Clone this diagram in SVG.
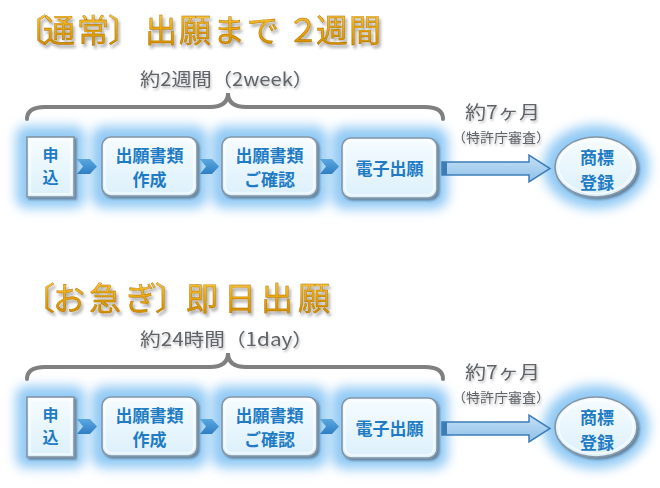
<svg xmlns="http://www.w3.org/2000/svg" width="660" height="488" viewBox="0 0 660 488">
<defs>
<linearGradient id="gold" x1="0" y1="0" x2="0" y2="1">
<stop offset="0" stop-color="#ffd866"/>
<stop offset="0.5" stop-color="#eaa80a"/>
<stop offset="1" stop-color="#c98400"/>
</linearGradient>
<linearGradient id="boxg" x1="0" y1="0" x2="0" y2="1">
<stop offset="0" stop-color="#f6fcff"/>
<stop offset="1" stop-color="#dcf0fb"/>
</linearGradient>
<linearGradient id="chev" x1="0" y1="0" x2="0" y2="1">
<stop offset="0" stop-color="#5aa8e0"/>
<stop offset="1" stop-color="#2f7ec4"/>
</linearGradient>
<linearGradient id="arrg" x1="0" y1="0" x2="0" y2="1">
<stop offset="0" stop-color="#c4e0f6"/>
<stop offset="1" stop-color="#8fc0e8"/>
</linearGradient>
<filter id="glow" x="-50%" y="-50%" width="200%" height="200%">
<feGaussianBlur stdDeviation="6"/>
</filter>
<filter id="shadow" x="-20%" y="-20%" width="140%" height="140%">
<feGaussianBlur in="SourceAlpha" stdDeviation="1.2"/>
<feOffset dx="1.5" dy="2" result="b"/>
<feFlood flood-color="#3a4a5a" flood-opacity="0.55"/>
<feComposite in2="b" operator="in"/>
<feMerge><feMergeNode/><feMergeNode in="SourceGraphic"/></feMerge>
</filter>
<filter id="tshadow" x="-10%" y="-30%" width="120%" height="160%">
<feGaussianBlur in="SourceAlpha" stdDeviation="1.5"/>
<feOffset dx="2" dy="2.5" result="b"/>
<feFlood flood-color="#000" flood-opacity="0.35"/>
<feComposite in2="b" operator="in"/>
<feMerge><feMergeNode/><feMergeNode in="SourceGraphic"/></feMerge>
</filter>
<filter id="sshadow" x="-10%" y="-30%" width="120%" height="160%">
<feGaussianBlur in="SourceAlpha" stdDeviation="1"/>
<feOffset dx="1" dy="1.5" result="b"/>
<feFlood flood-color="#000" flood-opacity="0.25"/>
<feComposite in2="b" operator="in"/>
<feMerge><feMergeNode/><feMergeNode in="SourceGraphic"/></feMerge>
</filter>
</defs>
<style>
.title{font-family:"Noto Sans CJK JP","Noto Sans",sans-serif;font-size:32px;fill:url(#gold);stroke:#a86c00;stroke-width:0.4;filter:url(#tshadow)}
.sub{font-family:"Noto Sans CJK JP","Noto Sans",sans-serif;font-size:18px;fill:#606468;filter:url(#sshadow)}
.small{font-family:"Noto Sans CJK JP","Noto Sans",sans-serif;font-size:13px;fill:#606468;filter:url(#sshadow)}
.brace{fill:none;stroke:#808080;stroke-width:4;stroke-linecap:round}
.gl{fill:#92caf5;filter:url(#glow)}
.box{fill:url(#boxg);stroke:#8595a4;stroke-width:1.6;filter:url(#shadow)}
.inner{fill:none;stroke:#ffffff;stroke-width:1.2;opacity:0.9}
.lbl{font-family:"Noto Sans CJK JP","Noto Sans",sans-serif;font-size:17px;font-weight:bold;fill:#1f7cc4;text-anchor:middle}
.lbs{font-size:16px}
.chev{fill:url(#chev)}
.arr{fill:url(#arrg);stroke:#3c7db8;stroke-width:1.5}
</style>

<!-- Section 1 -->
<g id="title1">
<text class="title" y="42" x="15 43 77 108 145 179 213 247 287 316 349">〔通常〕出願まで２週間</text>
</g>
<g id="span1">
<text class="sub" x="140" y="86" textLength="173" lengthAdjust="spacingAndGlyphs">約2週間（2week）</text>
</g>

<g id="glows1">
<rect class="gl" x="16" y="126" width="69" height="82" rx="10"/>
<rect class="gl" x="91" y="126" width="117" height="82" rx="14"/>
<rect class="gl" x="211" y="126" width="117" height="82" rx="14"/>
<rect class="gl" x="331" y="127" width="117" height="82" rx="14"/>
<ellipse class="gl" cx="596" cy="167" rx="53" ry="42"/>
</g>

<g id="connectors1">
<path class="brace" d="M27,119 Q27,107 45,107 L210,107 Q228,107 228,93 Q228,107 246,107 L425,107 Q443,107 443,119"/>
<polygon class="chev" points="77,159 90,159 97,166.5 90,174 77,174 83,166.5"/>
<polygon class="chev" points="200,159 212,159 219,166.5 212,174 200,174 206,166.5"/>
<polygon class="chev" points="320,159 332,159 339,166.5 332,174 320,174 326,166.5"/>
<path class="arr" d="M442,162 L529,162 L529,155 L550,168.5 L529,182 L529,175 L442,175 Z"/>
<rect x="442" y="162" width="5" height="13" fill="#3c7db8"/>
<text class="sub" x="465" y="119" textLength="75" lengthAdjust="spacingAndGlyphs">約7ヶ月</text>
<text class="small" x="452" y="142" textLength="98" lengthAdjust="spacingAndGlyphs">（特許庁審査）</text>
</g>

<g id="n1-apply">
<rect class="box" x="27" y="137" width="47" height="60"/>
<rect class="inner" x="30" y="140" width="41" height="54"/>
<text class="lbl lbs" x="50.5" y="161">申</text>
<text class="lbl lbs" x="50.5" y="183">込</text>
</g>
<g id="n1-create">
<rect class="box" x="102" y="137" width="95" height="59" rx="9"/>
<rect class="inner" x="105" y="140" width="89" height="53" rx="7"/>
<text class="lbl" x="149.5" y="162">出願書類</text>
<text class="lbl" x="149.5" y="186">作成</text>
</g>
<g id="n1-confirm">
<rect class="box" x="222" y="137" width="95" height="59" rx="9"/>
<rect class="inner" x="225" y="140" width="89" height="53" rx="7"/>
<text class="lbl" x="269.5" y="162">出願書類</text>
<text class="lbl" x="269.5" y="186">ご確認</text>
</g>
<g id="n1-efile">
<rect class="box" x="342" y="138" width="95" height="60" rx="9"/>
<rect class="inner" x="345" y="141" width="89" height="54" rx="7"/>
<text class="lbl" x="389.5" y="175">電子出願</text>
</g>
<g id="n1-register">
<ellipse class="box" cx="596" cy="167" rx="41" ry="30"/>
<ellipse class="inner" cx="596" cy="167" rx="37.5" ry="26.5"/>
<text class="lbl" x="597" y="164">商標</text>
<text class="lbl" x="597" y="189">登録</text>
</g>

<!-- Section 2 -->
<g id="title2">
<text class="title" y="310" x="23 53 89 125 155 186 224 261 298">〔お急ぎ〕即日出願</text>
</g>
<g id="span2">
<text class="sub" x="140" y="346" textLength="173" lengthAdjust="spacingAndGlyphs">約24時間（1day）</text>
</g>

<g id="glows2">
<rect class="gl" x="16" y="386" width="69" height="82" rx="10"/>
<rect class="gl" x="91" y="386" width="117" height="82" rx="14"/>
<rect class="gl" x="211" y="386" width="117" height="82" rx="14"/>
<rect class="gl" x="331" y="387" width="117" height="82" rx="14"/>
<ellipse class="gl" cx="596" cy="427" rx="53" ry="42"/>
</g>

<g id="connectors2">
<path class="brace" d="M27,379 Q27,367 45,367 L210,367 Q228,367 228,353 Q228,367 246,367 L425,367 Q443,367 443,379"/>
<polygon class="chev" points="77,419 90,419 97,426.5 90,434 77,434 83,426.5"/>
<polygon class="chev" points="200,419 212,419 219,426.5 212,434 200,434 206,426.5"/>
<polygon class="chev" points="320,419 332,419 339,426.5 332,434 320,434 326,426.5"/>
<path class="arr" d="M442,422 L529,422 L529,415 L550,428.5 L529,442 L529,435 L442,435 Z"/>
<rect x="442" y="422" width="5" height="13" fill="#3c7db8"/>
<text class="sub" x="465" y="379" textLength="75" lengthAdjust="spacingAndGlyphs">約7ヶ月</text>
<text class="small" x="452" y="402" textLength="98" lengthAdjust="spacingAndGlyphs">（特許庁審査）</text>
</g>

<g id="n2-apply">
<rect class="box" x="27" y="397" width="47" height="60"/>
<rect class="inner" x="30" y="400" width="41" height="54"/>
<text class="lbl lbs" x="50.5" y="421">申</text>
<text class="lbl lbs" x="50.5" y="443">込</text>
</g>
<g id="n2-create">
<rect class="box" x="102" y="397" width="95" height="59" rx="9"/>
<rect class="inner" x="105" y="400" width="89" height="53" rx="7"/>
<text class="lbl" x="149.5" y="422">出願書類</text>
<text class="lbl" x="149.5" y="446">作成</text>
</g>
<g id="n2-confirm">
<rect class="box" x="222" y="397" width="95" height="59" rx="9"/>
<rect class="inner" x="225" y="400" width="89" height="53" rx="7"/>
<text class="lbl" x="269.5" y="422">出願書類</text>
<text class="lbl" x="269.5" y="446">ご確認</text>
</g>
<g id="n2-efile">
<rect class="box" x="342" y="398" width="95" height="60" rx="9"/>
<rect class="inner" x="345" y="401" width="89" height="54" rx="7"/>
<text class="lbl" x="389.5" y="435">電子出願</text>
</g>
<g id="n2-register">
<ellipse class="box" cx="596" cy="427" rx="41" ry="30"/>
<ellipse class="inner" cx="596" cy="427" rx="37.5" ry="26.5"/>
<text class="lbl" x="597" y="424">商標</text>
<text class="lbl" x="597" y="449">登録</text>
</g>
</svg>
